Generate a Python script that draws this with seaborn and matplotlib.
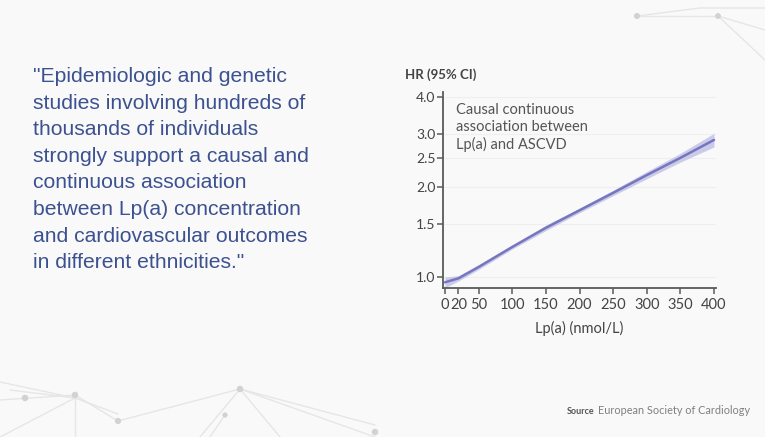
import numpy as np
import pandas as pd
import matplotlib
matplotlib.use("Agg")
import matplotlib.pyplot as plt
import seaborn as sns

# Data
lpa = [0, 20, 50, 100, 150, 200, 250, 300, 350, 400]
hr = [0.96, 0.99, 1.08, 1.26, 1.46, 1.67, 1.91, 2.19, 2.50, 2.87]
hr_low = [0.92, 0.97, 1.06, 1.24, 1.43, 1.64, 1.87, 2.13, 2.42, 2.72]
hr_high = [1.00, 1.01, 1.10, 1.28, 1.49, 1.70, 1.95, 2.25, 2.59, 3.02]
x_ticks = [0, 20, 50, 100, 150, 200, 250, 300, 350, 400]
x_tick_labels = ["0", "20", "50", "100", "150", "200", "250", "300", "350", "400"]
y_ticks = [1.0, 1.5, 2.0, 2.5, 3.0, 4.0]
y_tick_labels = ["1.0", "1.5", "2.0", "2.5", "3.0", "4.0"]

quote_lines = [
    '"Epidemiologic and genetic',
    'studies involving hundreds of',
    'thousands of individuals',
    'strongly support a causal and',
    'continuous association',
    'between Lp(a) concentration',
    'and cardiovascular outcomes',
    'in different ethnicities."',
]

df = pd.DataFrame({"lpa": lpa, "hr": hr, "lo": hr_low, "hi": hr_high})

sns.set_theme(style="white")
plt.rcParams["font.family"] = ["Lato", "DejaVu Sans"]

W, H = 765, 437
fig = plt.figure(figsize=(W / 100, H / 100), dpi=100)
fig.patch.set_facecolor("#f9f9f9")

# Decorative background network
bg = fig.add_axes([0, 0, 1, 1], zorder=0)
bg.set_xlim(0, W)
bg.set_ylim(H, 0)
bg.axis("off")
net_lines = [
    [(0, 382), (75, 398), (118, 414)],
    [(10, 390), (75, 398)],
    [(0, 437), (75, 398)],
    [(0, 400), (75, 395)],
    [(75, 395), (118, 421)],
    [(75, 395), (75, 437)],
    [(118, 421), (240, 389), (375, 437)],
    [(240, 389), (200, 437)],
    [(240, 389), (280, 437)],
    [(240, 389), (375, 425)],
    [(225, 415), (210, 437)],
    [(637, 16), (718, 16)],
    [(637, 16), (700, 8), (765, 8)],
    [(718, 16), (765, 60)],
    [(718, 16), (765, 30)],
]
for seg in net_lines:
    xs, ys = zip(*seg)
    bg.plot(xs, ys, color="#e6e6e6", lw=1.0, zorder=0)
for (px, py, s) in [(25, 398, 22), (75, 395, 22), (118, 421, 20), (240, 389, 22),
                    (225, 415, 14), (375, 432, 22), (637, 16, 20), (718, 16, 18)]:
    bg.scatter([px], [py], s=s, color="#d2d2d2", zorder=1, edgecolors="none")

# Quote text
for i, line in enumerate(quote_lines):
    fig.text(33 / W, 1 - (77 + i * 26.5) / H, line, ha="left", va="center",
             fontsize=15.2, color="#3b5190",
             family=["Liberation Sans", "DejaVu Sans"])

# Chart
ax = fig.add_axes([443 / W, 1 - 288 / H, (716 - 443) / W, (288 - 92) / H], zorder=2)
ax.set_facecolor("none")
ax.set_yscale("log")
ax.fill_between(df["lpa"], df["lo"], df["hi"], color="#c6c6e8", lw=0, alpha=0.9)
sns.lineplot(data=df, x="lpa", y="hr", ax=ax, color="#7676c0", lw=1.8)
ax.set_xlim(-3, 403)
ax.set_ylim(0.919, 4.15)
ax.set_yticks(y_ticks)
ax.set_yticklabels(y_tick_labels)
ax.yaxis.set_minor_locator(matplotlib.ticker.NullLocator())
ax.set_xticks(x_ticks)
ax.set_xticklabels(x_tick_labels)
for yv in y_ticks:
    ax.axhline(yv, color="#efefef", lw=0.8, zorder=0)
for sp in ["top", "right"]:
    ax.spines[sp].set_visible(False)
for sp in ["left", "bottom"]:
    ax.spines[sp].set_color("#5a5a5a")
    ax.spines[sp].set_linewidth(1.3)
ax.tick_params(axis="both", which="major", direction="out", length=4, width=1.1,
               bottom=True, left=True,
               color="#5a5a5a", labelsize=10, labelcolor="#444444", pad=1.5)
ax.tick_params(axis="x", labelsize=10.5, pad=3.5)
ax.set_xlabel("Lp(a) (nmol/L)", fontsize=10.5, color="#444444", labelpad=6)
ax.set_ylabel("")

fig.text(405 / W, 1 - 75 / H, "HR (95% CI)", ha="left", va="center",
         fontsize=9.5, color="#444444", fontweight="bold")
fig.text(456 / W, 1 - 103 / H, "Causal continuous\nassociation between\nLp(a) and ASCVD",
         ha="left", va="top", fontsize=10.5, color="#555555", linespacing=1.25)

fig.text(567 / W, 1 - 411 / H, "Source", ha="left", va="center",
         fontsize=6.5, color="#555555", fontweight="bold")
fig.text(598 / W, 1 - 411 / H, "European Society of Cardiology", ha="left", va="center",
         fontsize=7.8, color="#808080")

fig.savefig("out.png", dpi=100, facecolor=fig.get_facecolor())
